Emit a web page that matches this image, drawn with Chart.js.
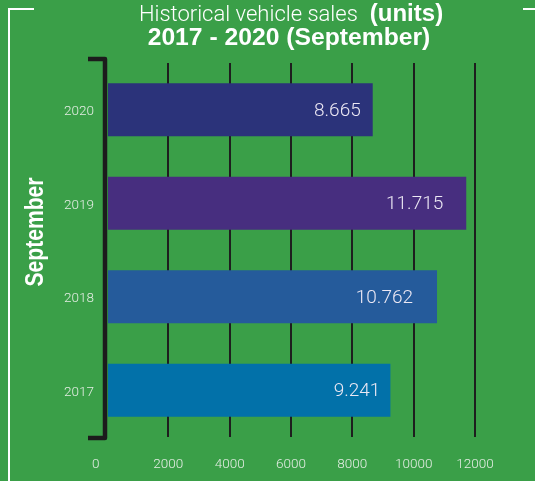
<!DOCTYPE html>
<html><head><meta charset="utf-8">
<script src="https://cdn.jsdelivr.net/npm/chart.js@4"></script>
<style>html,body{margin:0;padding:0;background:#3a9f48;overflow:hidden}</style>
</head><body>
<canvas id="c" width="535" height="481"></canvas>
<script>
// ---- data ----
const categories = ['2020', '2019', '2018', '2017'];
const sales = [8665, 11715, 10762, 9241];
const xTickValues = [0, 2000, 4000, 6000, 8000, 10000, 12000];
const titleLight = 'Historical vehicle sales';
const titleBold = '(units)';
const subtitle = '2017 - 2020 (September)';
const axisTitle = 'September';

// ---- styles ----
const barColors = ['#2b337a', '#472e7f', '#255b9b', '#0271a9'];
const labelInset = [12, 23, 24, 10];
const tickColor = '#e4ede4';
const gridColor = '#1e1e1e';

const fmt = v => v.toLocaleString('de-DE');

const deco = {
  id: 'deco',
  beforeDraw(chart) {
    const ctx = chart.ctx;
    ctx.save();
    ctx.strokeStyle = '#ffffff';
    ctx.lineWidth = 2;
    ctx.beginPath();
    ctx.moveTo(34, 9); ctx.lineTo(9, 9); ctx.lineTo(9, 481);
    ctx.moveTo(523, 9); ctx.lineTo(535, 9);
    ctx.stroke();
    ctx.restore();
  },
  beforeDatasetsDraw(chart) {
    const {ctx, chartArea: a} = chart;
    ctx.save();
    ctx.strokeStyle = '#1c1c1c';
    ctx.lineWidth = 4.5;
    ctx.lineJoin = 'round';
    ctx.beginPath();
    const x = a.left - 2;
    ctx.moveTo(88, a.top - 4);
    ctx.lineTo(x, a.top - 4);
    ctx.lineTo(x, a.bottom + 1);
    ctx.lineTo(88, a.bottom + 1);
    ctx.stroke();
    ctx.restore();
  },
  afterDatasetsDraw(chart) {
    const ctx = chart.ctx;
    const meta = chart.getDatasetMeta(0);
    ctx.save();
    ctx.fillStyle = '#ece8f4';
    ctx.font = '300 19px Roboto';
    ctx.textAlign = 'right';
    ctx.textBaseline = 'middle';
    meta.data.forEach((bar, i) => {
      ctx.fillText(fmt(sales[i]), bar.x - labelInset[i], bar.y + 1);
    });
    ctx.restore();
  },
  afterDraw(chart) {
    const ctx = chart.ctx;
    ctx.save();
    ctx.fillStyle = '#ffffff';
    ctx.textBaseline = 'alphabetic';
    const f1 = '300 22px Roboto';
    const f2 = 'bold 24px "Liberation Sans", Arial, sans-serif';
    const f3 = 'bold 24.7px "Liberation Sans", Arial, sans-serif';
    ctx.font = f1; const w1 = ctx.measureText(titleLight).width;
    ctx.font = f2; const w2 = ctx.measureText(titleBold).width;
    const gap = 12;
    let x0 = 291 - (w1 + gap + w2) / 2;
    ctx.textAlign = 'left';
    ctx.font = f1; ctx.fillText(titleLight, x0, 21);
    ctx.font = f2; ctx.fillText(titleBold, x0 + w1 + gap, 21);
    ctx.textAlign = 'center';
    ctx.font = f3; ctx.fillText(subtitle, 289, 45);
    ctx.translate(36, 232);
    ctx.rotate(-Math.PI / 2);
    ctx.font = 'bold 25px "Liberation Sans", Arial, sans-serif';
    const wt = ctx.measureText(axisTitle).width;
    ctx.scale(109 / wt, 1);
    ctx.textBaseline = 'middle';
    ctx.fillText(axisTitle, 0, 0);
    ctx.restore();
  }
};

new Chart(document.getElementById('c'), {
  type: 'bar',
  data: {
    labels: categories,
    datasets: [{
      data: sales,
      backgroundColor: barColors,
      borderWidth: 0,
      barPercentage: 0.568,
      categoryPercentage: 1
    }]
  },
  options: {
    indexAxis: 'y',
    responsive: false,
    animation: false,
    layout: {padding: {left: 0, right: 60, top: 63, bottom: 10}},
    plugins: {legend: {display: false}, tooltip: {enabled: false}},
    scales: {
      x: {
        min: 0, max: 12000,
        afterBuildTicks: s => { s.ticks = xTickValues.map(v => ({value: v})); },
        afterFit: s => { s.height = 34; },
        grid: {
          color: c => c.tick && c.tick.value === 0 ? 'rgba(0,0,0,0)' : gridColor,
          lineWidth: 2,
          drawTicks: false
        },
        border: {display: false},
        ticks: {
          color: tickColor,
          font: {family: 'Roboto', size: 13.5, weight: '300'},
          padding: 20,
          maxRotation: 0,
          autoSkip: false,
          callback: v => v === 0 ? '0\u2007\u2007\u2007' : String(v)
        }
      },
      y: {
        afterFit: s => { s.width = 107; },
        grid: {display: false, drawTicks: false},
        border: {display: false},
        ticks: {
          color: tickColor,
          font: {family: 'Roboto', size: 13.5, weight: '300'},
          padding: 13,
          labelOffset: 2
        }
      }
    }
  },
  plugins: [deco]
});
</script>
</body></html>
